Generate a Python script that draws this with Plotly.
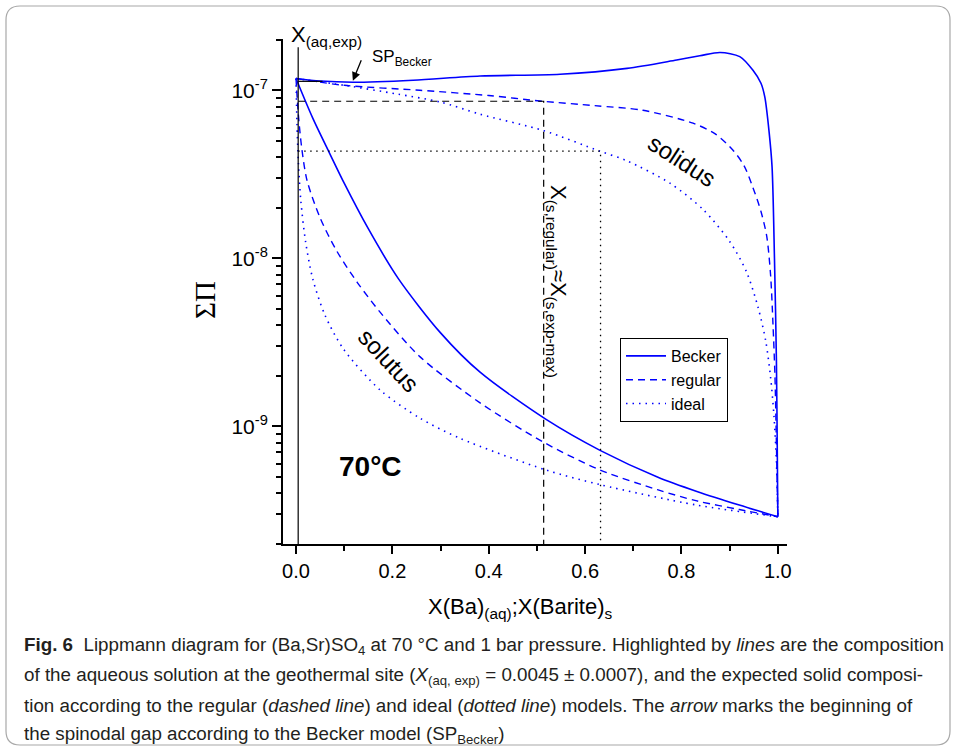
import math
import plotly.graph_objects as go

# ---------------- data ----------------
becker_solidus_x = [0.0, 0.05, 0.118, 0.243, 0.382, 0.548, 0.687, 0.79, 0.838, 0.88, 0.921, 0.948,
                    0.965, 0.973, 0.982, 0.988, 0.993, 0.997, 0.999, 1.0]
becker_solidus_y = [1.175e-7, 1.135e-7, 1.117e-7, 1.148e-7, 1.216e-7, 1.245e-7, 1.349e-7, 1.514e-7,
                    1.603e-7, 1.679e-7, 1.585e-7, 1.318e-7, 1.10e-7, 9.1e-8, 5.6e-8, 3.5e-8, 1.0e-8,
                    2.5e-9, 6.3e-10, 2.9e-10]
becker_solutus_x = [0.0, 0.035, 0.07, 0.10, 0.15, 0.212, 0.30, 0.382, 0.519, 0.631, 0.75, 0.832, 0.92, 1.0]
becker_solutus_y = [1.175e-7, 6.8e-8, 4.2e-8, 2.8e-8, 1.5e-8, 7.6e-9, 3.6e-9, 2.1e-9, 1.1e-9,
                    7.2e-10, 5.0e-10, 4.1e-10, 3.4e-10, 2.9e-10]

regular_solidus_x = [0.0, 0.1, 0.257, 0.4, 0.512, 0.62, 0.72, 0.824, 0.87, 0.907, 0.93, 0.948, 0.965,
                     0.977, 0.985, 0.99, 0.994, 0.997, 1.0]
regular_solidus_y = [1.175e-7, 1.07e-7, 1.0e-7, 9.3e-8, 8.6e-8, 8.1e-8, 7.6e-8, 6.37e-8, 5.5e-8,
                     4.4e-8, 3.55e-8, 2.65e-8, 1.9e-8, 1.35e-8, 7.9e-9, 4.0e-9, 2.0e-9, 7.9e-10, 2.9e-10]
regular_solutus_x = [0.0, 0.005, 0.012, 0.023, 0.05, 0.085, 0.127, 0.174, 0.257, 0.382, 0.512, 0.631,
                     0.75, 0.832, 0.92, 1.0]
regular_solutus_y = [1.175e-7, 7.1e-8, 4.5e-8, 2.9e-8, 1.74e-8, 1.1e-8, 7.2e-9, 4.8e-9, 2.6e-9, 1.38e-9,
                     8.1e-10, 5.5e-10, 4.2e-10, 3.6e-10, 3.2e-10, 2.9e-10]

ideal_solidus_x = [0.0, 0.1, 0.21, 0.3, 0.382, 0.514, 0.631, 0.687, 0.776, 0.845, 0.9, 0.935, 0.959,
                   0.975, 0.985, 0.992, 0.997, 1.0]
ideal_solidus_y = [1.175e-7, 1.07e-7, 9.5e-8, 8.5e-8, 7.2e-8, 5.75e-8, 4.34e-8, 3.8e-8, 2.8e-8,
                   1.95e-8, 1.26e-8, 8.3e-9, 5.1e-9, 3.2e-9, 1.95e-9, 1.15e-9, 6.2e-10, 2.9e-10]
ideal_solutus_x = [0.0, 0.002, 0.005, 0.01, 0.02, 0.035, 0.06, 0.098, 0.174, 0.257, 0.34, 0.519, 0.631,
                   0.832, 1.0]
ideal_solutus_y = [1.175e-7, 6.4e-8, 3.7e-8, 2.2e-8, 1.25e-8, 7.5e-9, 4.6e-9, 2.9e-9, 1.65e-9,
                   1.12e-9, 8.5e-10, 5.5e-10, 4.5e-10, 3.4e-10, 2.9e-10]

x_aq_exp = 0.0045
x_aq_line_top = 1.8e-7
sp_becker = [0.118, 1.14e-7]
becker_marker_y = 1.13e-7
becker_marker_x_end = 0.055
x_s_regular, y_s_regular = 0.514, 8.6e-8
x_s_ideal, y_s_ideal = 0.632, 4.34e-8

x_ticks = [0.0, 0.2, 0.4, 0.6, 0.8, 1.0]
y_ticks = [1e-9, 1e-8, 1e-7]
y_ticktext = ["10<sup>-9</sup>", "10<sup>-8</sup>", "10<sup>-7</sup>"]

X_RANGE = [-0.027, 1.019]
Y_RANGE_LOG = [-9.70, -6.695]
y_bottom = 10 ** Y_RANGE_LOG[0]

# ---------------- layout helpers (pixel -> paper) ----------------
L, R, T, B = 283, 787, 39, 544
W_, H_ = R - L, B - T


def px(xp):
    return (xp - L) / W_


def py(yp):
    return (B - yp) / H_


BLUE = "#0000ff"
fig = go.Figure()

styles = {
    "Becker": dict(color=BLUE, width=1.6, dash="solid"),
    "regular": dict(color=BLUE, width=1.4, dash="7px,5px"),
    "ideal": dict(color=BLUE, width=1.6, dash="1.5px,5px"),
}
series = [
    ("Becker", becker_solidus_x, becker_solidus_y, becker_solutus_x, becker_solutus_y),
    ("regular", regular_solidus_x, regular_solidus_y, regular_solutus_x, regular_solutus_y),
    ("ideal", ideal_solidus_x, ideal_solidus_y, ideal_solutus_x, ideal_solutus_y),
]
for name, sx, sy, lx, ly in series:
    fig.add_trace(go.Scatter(x=sx, y=sy, mode="lines", name=name, legendgroup=name,
                             line=dict(shape="spline", smoothing=0.8, **styles[name])))
    fig.add_trace(go.Scatter(x=lx, y=ly, mode="lines", name=name, legendgroup=name, showlegend=False,
                             line=dict(shape="spline", smoothing=0.8, **styles[name])))

# reference lines
fig.add_trace(go.Scatter(x=[x_aq_exp, x_aq_exp], y=[y_bottom, x_aq_line_top], mode="lines",
                         line=dict(color="black", width=1.2), showlegend=False, hoverinfo="skip"))
fig.add_trace(go.Scatter(x=[x_aq_exp, becker_marker_x_end], y=[becker_marker_y, becker_marker_y], mode="lines",
                         line=dict(color="black", width=1.2), showlegend=False, hoverinfo="skip"))
fig.add_trace(go.Scatter(x=[x_aq_exp, x_s_regular, x_s_regular], y=[y_s_regular, y_s_regular, y_bottom],
                         mode="lines", line=dict(color="black", width=1.2, dash="7px,5px"),
                         showlegend=False, hoverinfo="skip"))
fig.add_trace(go.Scatter(x=[x_aq_exp, x_s_ideal, x_s_ideal], y=[y_s_ideal, y_s_ideal, y_bottom],
                         mode="lines", line=dict(color="black", width=1.3, dash="1.5px,4.5px"),
                         showlegend=False, hoverinfo="skip"))

FONT = "Liberation Sans, Arial, sans-serif"


def label(xp, yp, text, size, angle=0, xa="center", ya="middle", family=FONT, color="black"):
    return dict(x=px(xp), y=py(yp), xref="paper", yref="paper", xanchor=xa, yanchor=ya, text=text,
                textangle=angle, showarrow=False, font=dict(size=size, family=family, color=color))


ann = [
    label(289, 36, "X<sub>(aq,exp)</sub>", 22, xa="left"),
    label(402, 58, "SP<sub>Becker</sub>", 17),
    dict(x=sp_becker[0], y=math.log10(sp_becker[1]), xref="x", yref="y", text="", showarrow=True,
         arrowhead=2, arrowsize=1.3, arrowwidth=1.3, arrowcolor="black", ax=9, ay=-22, standoff=0),
    label(682, 160, "solidus", 24, angle=33),
    label(389, 360, "solutus", 24, angle=47),
    label(557, 281, "X<sub>(s,regular)</sub>≈X<sub>(s,exp-max)</sub>", 22, angle=90),
    label(370, 466, "<b>70°C</b>", 28),
    label(520, 608, "X(Ba)<sub>(aq)</sub>;X(Barite)<sub>s</sub>", 22),
    label(205, 300, "ΣΠ", 29, angle=-90, family="Liberation Serif, Times New Roman, serif"),
]

caption_lines = [
    "<b>Fig. 6</b>  Lippmann diagram for (Ba,Sr)SO<sub>4</sub> at 70 °C and 1 bar pressure. "
    "Highlighted by <i>lines</i> are the composition",
    "of the aqueous solution at the geothermal site (<i>X</i><sub>(aq, exp)</sub> = 0.0045 ± 0.0007), "
    "and the expected solid composi-",
    "tion according to the regular (<i>dashed line</i>) and ideal (<i>dotted line</i>) models. "
    "The <i>arrow</i> marks the beginning of",
    "the spinodal gap according to the Becker model (SP<sub>Becker</sub>)",
]
for i, line in enumerate(caption_lines):
    ann.append(label(22, 646 + 29.7 * i, line, 18.8, xa="left", color="#231f20"))

# frame (rounded rectangle)
x0, x1, y0, y1, r = px(6), px(950), py(6), py(745), 14
rx, ry = r / W_, r / H_
path = (f"M {x0+rx},{y0} L {x1-rx},{y0} Q {x1},{y0} {x1},{y0-ry} L {x1},{y1+ry} Q {x1},{y1} {x1-rx},{y1} "
        f"L {x0+rx},{y1} Q {x0},{y1} {x0},{y1+ry} L {x0},{y0-ry} Q {x0},{y0} {x0+rx},{y0} Z")

fig.update_layout(
    width=956, height=750,
    margin=dict(l=L, r=956 - R, t=T, b=750 - B),
    paper_bgcolor="white", plot_bgcolor="white",
    font=dict(family=FONT, color="black"),
    annotations=ann,
    shapes=[dict(type="path", path=path, xref="paper", yref="paper",
                 line=dict(color="#a8a8a8", width=1.2), layer="below")],
    legend=dict(x=px(620), y=py(338), xanchor="left", yanchor="top", bordercolor="black", borderwidth=1,
                bgcolor="white", font=dict(size=16, family=FONT, color="black"), tracegroupgap=0,
                itemwidth=40),
    xaxis=dict(range=X_RANGE, tickvals=x_ticks, ticktext=[f"{v:.1f}" for v in x_ticks],
               ticks="outside", ticklen=8, tickwidth=1.6, tickcolor="black",
               minor=dict(ticks="outside", ticklen=5, tickwidth=1.6, tickcolor="black", dtick=0.1, tick0=0),
               showline=True, linewidth=2, linecolor="black", showgrid=False, zeroline=False,
               tickfont=dict(size=20, family=FONT, color="black")),
    yaxis=dict(type="log", range=Y_RANGE_LOG, tickvals=y_ticks, ticktext=y_ticktext,
               ticks="outside", ticklen=9, tickwidth=1.6, tickcolor="black",
               minor=dict(ticks="outside", ticklen=5, tickwidth=1.6, tickcolor="black", dtick="D1"),
               showline=True, linewidth=2, linecolor="black", showgrid=False, zeroline=False,
               tickfont=dict(size=21, family=FONT, color="black")),
)

fig.write_html("out.html", config={"displayModeBar": False},
               post_script="document.body.style.margin='0px';document.body.style.overflow='hidden';")
